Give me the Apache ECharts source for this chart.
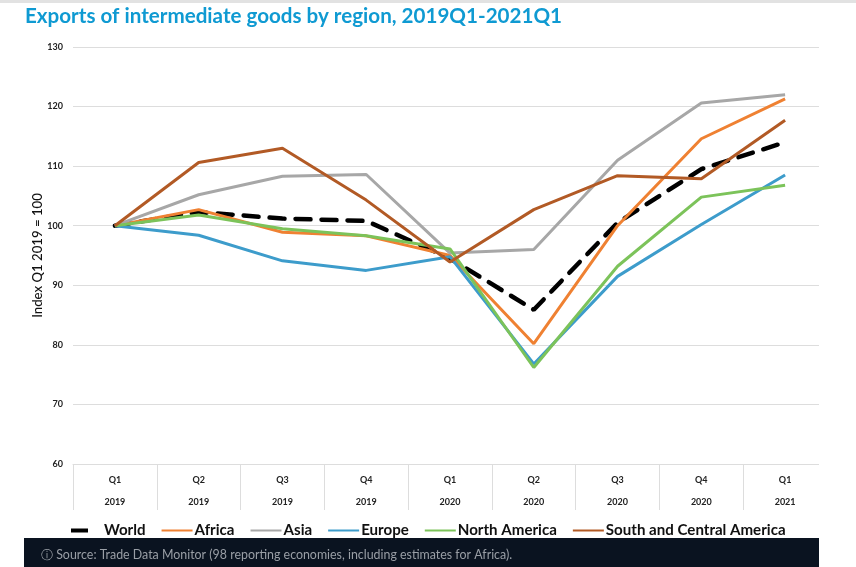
<!DOCTYPE html>
<html><head><meta charset="utf-8">
<style>html,body{margin:0;padding:0;background:#fff}#c{width:856px;height:567px}</style>
<script src="https://cdn.jsdelivr.net/npm/echarts@6/dist/echarts.min.js"></script>
</head><body><div id="c"></div>
<script>
const quarters = ['Q1','Q2','Q3','Q4','Q1','Q2','Q3','Q4','Q1'];
const years = ['2019','2019','2019','2019','2020','2020','2020','2020','2021'];
const world = [100,102.3,101.2,100.8,94.5,85.9,100.5,109.5,114];
const africa = [100,102.7,98.9,98.3,95,80.2,100,114.6,121.3];
const asia = [100,105.2,108.3,108.6,95.4,96,111,120.6,122];
const europe = [100,98.4,94.1,92.5,94.8,76.8,91.5,100.2,108.5];
const northAmerica = [100,101.8,99.5,98.3,96.1,76.2,93.2,104.8,106.8];
const southCentral = [100,110.6,113,104.3,93.9,102.7,108.4,107.9,117.7];
const titleText = 'Exports of intermediate goods by region, 2019Q1-2021Q1';
const sourceText = 'ⓘ Source: Trade Data Monitor (98 reporting economies, including estimates for Africa).';

const font = 'Lato';
const line = (name, data, color, extra) => Object.assign({
  name, data, type:'line', symbol:'none', smooth:false,
  lineStyle:{color, width:3}, itemStyle:{color}
}, extra||{});

const chart = echarts.init(document.getElementById('c'), null, {renderer:'canvas'});
chart.setOption({
  animation:false,
  backgroundColor:'#fff',
  title:{text:titleText, left:20, top:1, textStyle:{fontFamily:font, fontSize:20.6, fontWeight:700, color:'#0f9ad2'}},
  grid:{left:73, top:47, width:754, height:417, containLabel:false},
  legend:{
    left:71, top:523, itemWidth:31, itemHeight:10, itemGap:16, padding:0,
    icon:'path://M0 4H31V6H0Z',
    textStyle:{fontFamily:font, fontSize:15.1, fontWeight:700, color:'#111', padding:[0,0,0,-3]},
    data:[
      {name:'World', icon:'path://M0 3H17V7H0Z M31 0H31.01V0.01H31Z M31 10H31.01V9.99H31Z', itemStyle:{color:'#000'}},
      'Africa','Asia','Europe','North America','South and Central America'
    ]
  },
  xAxis:{
    type:'category', data:quarters.map((q,i)=>q+'\n'+years[i]), boundaryGap:true,
    axisLine:{show:true, lineStyle:{color:'#dddddd', width:1}},
    axisTick:{show:true, length:46, lineStyle:{color:'#dddddd', width:1}},
    axisLabel:{fontFamily:font, fontSize:9, fontWeight:700, color:'#222', lineHeight:22, margin:5, interval:0}
  },
  yAxis:{
    type:'value', min:60, max:130, interval:10,
    name:'Index Q1 2019 = 100', nameLocation:'middle', nameGap:29, nameRotate:90, nameMoveOverlap:false,
    nameTextStyle:{fontFamily:font, fontSize:13.2, fontWeight:500, color:'#111'},
    axisLine:{show:false}, axisTick:{show:false},
    axisLabel:{fontFamily:font, fontSize:9, fontWeight:700, color:'#222', margin:10},
    splitLine:{lineStyle:{color:'#dddddd', width:1}}
  },
  series:[
    line('World', world, '#000000', {lineStyle:{color:'#000', width:4.5, type:[15,11], cap:'round'}}),
    line('Africa', africa, '#ef8132'),
    line('Asia', asia, '#a7a7a7'),
    line('Europe', europe, '#3d9ccb'),
    line('North America', northAmerica, '#7cc35a'),
    line('South and Central America', southCentral, '#b25a25')
  ],
  graphic:[
    {type:'rect', left:819, top:40, shape:{width:12, height:480}, style:{fill:'#fff'}, z:50},
    {type:'rect', left:0, top:0, shape:{width:856, height:3}, style:{fill:'#e2e2e2'}, z:50},
    {type:'rect', left:24, top:538, shape:{width:795, height:29}, style:{fill:'#0a1320'}, z:50},
    {type:'text', left:41, top:549, z:51, style:{text:sourceText, fill:'#9a9fa6', font:'400 12.4px '+font}}
  ]
});
</script></body></html>
